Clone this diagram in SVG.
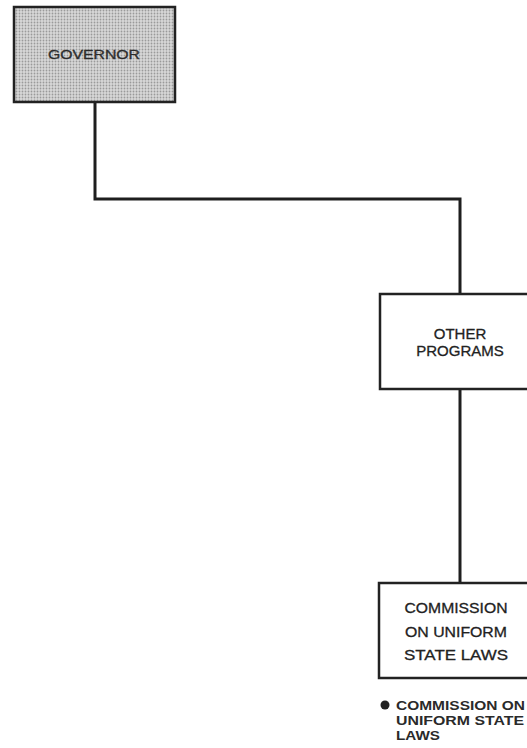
<svg xmlns="http://www.w3.org/2000/svg" width="527" height="748" viewBox="0 0 527 748">
<style>
.box{fill:#fff;stroke:#222;stroke-width:2.5}
.conn{fill:none;stroke:#1e1e1e;stroke-width:3;stroke-linejoin:miter}
.t{font-family:"Liberation Sans",Arial,sans-serif;font-size:15px;fill:#222;text-anchor:middle;stroke:#222;stroke-width:0.3}
.b{font-family:"Liberation Sans",Arial,sans-serif;font-size:13px;font-weight:bold;fill:#2a2a2a}
</style>
<defs>
<pattern id="dots" width="3" height="3" patternUnits="userSpaceOnUse">
<rect width="3" height="3" fill="#d8d8d8"/>
<circle cx="1.5" cy="1.5" r="0.9" fill="#9a9a9a"/>
</pattern>
</defs>
<rect width="527" height="748" fill="#fff"/>
<g id="connectors">
<path class="conn" d="M95 102 V199 H460 V294"/>
<path class="conn" d="M460 389 V583"/>
</g>
<g id="governor">
<rect x="14" y="7" width="161" height="95" fill="url(#dots)" stroke="#222" stroke-width="2.5"/>
<text x="94" y="59" class="t" style="font-size:13px;fill:#333" textLength="92" lengthAdjust="spacingAndGlyphs">GOVERNOR</text>
</g>
<g id="other-programs">
<rect class="box" x="380" y="294" width="160" height="95"/>
<text class="t" x="460" y="339">OTHER</text>
<text class="t" x="460" y="356">PROGRAMS</text>
</g>
<g id="commission">
<rect class="box" x="379" y="583" width="160" height="95"/>
<text class="t" x="456" y="613" textLength="103" lengthAdjust="spacingAndGlyphs">COMMISSION</text>
<text class="t" x="456" y="637" textLength="102" lengthAdjust="spacingAndGlyphs">ON UNIFORM</text>
<text class="t" x="456" y="660" textLength="104" lengthAdjust="spacingAndGlyphs">STATE LAWS</text>
</g>
<g id="note">
<circle cx="385" cy="705" r="4.5" fill="#222"/>
<text class="b" x="396" y="710" textLength="129" lengthAdjust="spacingAndGlyphs">COMMISSION ON</text>
<text class="b" x="396" y="725" textLength="128" lengthAdjust="spacingAndGlyphs">UNIFORM STATE</text>
<text class="b" x="396" y="740" textLength="44" lengthAdjust="spacingAndGlyphs">LAWS</text>
</g>
</svg>
